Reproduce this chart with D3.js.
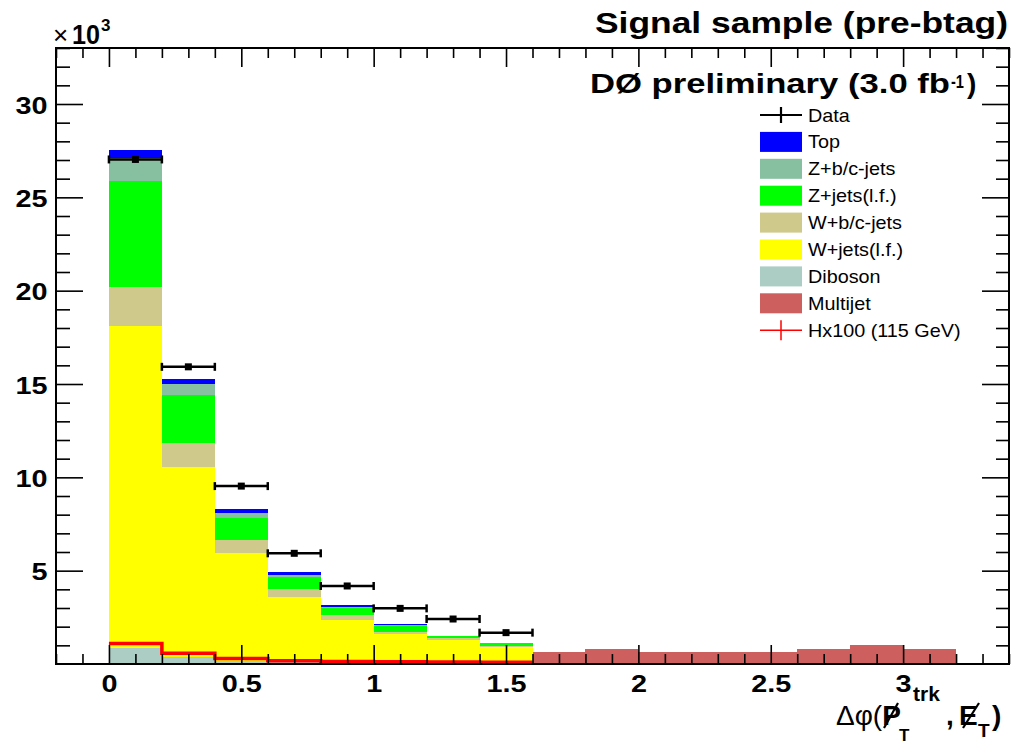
<!DOCTYPE html>
<html>
<head>
<meta charset="utf-8">
<script src="https://cdn.jsdelivr.net/npm/d3@7"></script>
<style>
  body { margin: 0; background: #fff; }
  svg { display: block; font-family: "Liberation Sans", Arial, Helvetica, sans-serif; }
</style>
</head>
<body>
<svg id="chart" width="1018" height="747"></svg>
<script>
// Δφ(pT trk, MET) histogram, bins of 0.2 rad, counts in thousands
const binLow   = [0.0, 0.2, 0.4, 0.6, 0.8, 1.0, 1.2, 1.4, 1.6, 1.8, 2.0, 2.2, 2.4, 2.6, 2.8, 3.0];
const binWidth = 0.2;

// background contributions per bin (x10^3 events), stacked bottom to top
const multijet = [0.05, 0.05, 0.04, 0.04, 0.03, 0.03, 0.03, 0.03, 0.66, 0.80, 0.66, 0.66, 0.66, 0.80, 1.02, 0.79];
const diboson  = [0.80, 0.33, 0.14, 0.06, 0.04, 0.03, 0.02, 0.02, 0, 0, 0, 0, 0, 0, 0, 0];
const wLight   = [17.25, 10.19, 5.75, 3.50, 2.29, 1.53, 1.24, 0.88, 0, 0, 0, 0, 0, 0, 0, 0];
const wHeavy   = [2.10, 1.28, 0.71, 0.40, 0.26, 0.14, 0.09, 0.05, 0, 0, 0, 0, 0, 0, 0, 0];
const zLight   = [5.65, 2.56, 1.20, 0.68, 0.38, 0.31, 0.12, 0.12, 0, 0, 0, 0, 0, 0, 0, 0];
const zHeavy   = [1.25, 0.59, 0.25, 0.09, 0.05, 0.05, 0.01, 0.01, 0, 0, 0, 0, 0, 0, 0, 0];
const topQuark = [0.45, 0.25, 0.21, 0.17, 0.10, 0.04, 0.01, 0.01, 0, 0, 0, 0, 0, 0, 0, 0];

// observed data (first 8 bins) and Higgs signal scaled x100
const dataVal   = [27.03, 15.92, 9.53, 5.93, 4.18, 2.98, 2.41, 1.68];
const dataErr   = [0.16, 0.13, 0.10, 0.08, 0.065, 0.055, 0.05, 0.04];
const higgsX100 = [1.10, 0.57, 0.30, 0.18, 0.13, 0.12, 0.11, 0.10];

const xTickVals   = [0, 0.5, 1, 1.5, 2, 2.5, 3];
const xTickLabels = ["0", "0.5", "1", "1.5", "2", "2.5", "3"];
const yTickVals   = [5, 10, 15, 20, 25, 30];
const yTickLabels = ["5", "10", "15", "20", "25", "30"];

const stackKeys   = ["multijet", "diboson", "wLight", "wHeavy", "zLight", "zHeavy", "topQuark"];
const stackColors = ["#cd5f5f", "#abcdc4", "#ffff00", "#cfc98c", "#00ff00", "#86c0a0", "#0000ff"];

const legendLabels = ["Data", "Top", "Z+b/c-jets", "Z+jets(l.f.)", "W+b/c-jets", "W+jets(l.f.)", "Diboson", "Multijet", "Hx100 (115 GeV)"];
const legendKinds  = ["data", "topQuark", "zHeavy", "zLight", "wHeavy", "wLight", "diboson", "multijet", "signal"];

// ---- layout ----
const frame = { left: 56, right: 1009, top: 48, bottom: 664 };
const svg = d3.select("#chart");

const x = d3.scaleLinear().domain([-0.2, 3.4]).range([frame.left, frame.right]);
const y = d3.scaleLinear().domain([0, 33]).range([frame.bottom, frame.top]);
const color = d3.scaleOrdinal().domain(stackKeys).range(stackColors);

// ---- stacked backgrounds ----
const series = { multijet, diboson, wLight, wHeavy, zLight, zHeavy, topQuark };
const rows = binLow.map((lo, i) => {
  const r = { lo };
  stackKeys.forEach(k => { r[k] = series[k][i]; });
  return r;
});
const stacked = d3.stack().keys(stackKeys)(rows);

const barLayer = svg.append("g").attr("shape-rendering", "crispEdges");
stacked.forEach(s => {
  barLayer.append("g")
    .attr("fill", color(s.key))
    .selectAll("rect")
    .data(s.filter(d => d[1] - d[0] > 0))
    .join("rect")
      .attr("x", d => x(d.data.lo))
      .attr("width", d => x(d.data.lo + binWidth) - x(d.data.lo))
      .attr("y", d => y(d[1]))
      .attr("height", d => y(d[0]) - y(d[1]));
});

// ---- Higgs x100 histogram line ----
const sigPts = higgsX100.map((v, i) => [binLow[i], v]);
sigPts.push([binLow[higgsX100.length - 1] + binWidth, higgsX100[higgsX100.length - 1]]);
svg.append("path")
  .attr("d", d3.line().x(d => x(d[0])).y(d => y(d[1])).curve(d3.curveStepAfter)(sigPts))
  .attr("fill", "none")
  .attr("stroke", "#ff0000")
  .attr("stroke-width", 3.5);

// ---- data points ----
const dataG = svg.append("g").attr("stroke", "#000").attr("fill", "#000");
dataVal.forEach((v, i) => {
  const x0 = x(binLow[i]), x1 = x(binLow[i] + binWidth), xc = (x0 + x1) / 2, yc = y(v);
  const g = dataG.append("g");
  g.append("line").attr("x1", x0).attr("x2", x1).attr("y1", yc).attr("y2", yc).attr("stroke-width", 2.5);
  g.append("line").attr("x1", x0).attr("x2", x0).attr("y1", yc - 4).attr("y2", yc + 4).attr("stroke-width", 2.5);
  g.append("line").attr("x1", x1).attr("x2", x1).attr("y1", yc - 4).attr("y2", yc + 4).attr("stroke-width", 2.5);
  g.append("line").attr("x1", xc).attr("x2", xc)
    .attr("y1", y(v + dataErr[i])).attr("y2", y(v - dataErr[i])).attr("stroke-width", 2);
  g.append("rect").attr("x", xc - 3.5).attr("y", yc - 3.5).attr("width", 7).attr("height", 7).attr("stroke", "none");
});

// ---- axes (ticks drawn inside the frame) ----
const xMinor = d3.range(-2, 35).map(k => k / 10).filter(v => Math.abs(v * 2 - Math.round(v * 2)) > 1e-6);
const yMinor = d3.range(0, 34).filter(v => v % 5 !== 0);

function tickAxis(axisGen, scale, vals, size, transform) {
  const g = svg.append("g").attr("transform", transform)
    .call(axisGen(scale).tickValues(vals).tickSize(-size).tickSizeOuter(0).tickFormat(""));
  g.select(".domain").remove();
  g.selectAll(".tick line").attr("stroke", "#000").attr("stroke-width", 1.6);
  return g;
}
tickAxis(d3.axisBottom, x, xMinor, 10, `translate(0,${frame.bottom})`);
tickAxis(d3.axisTop, x, xMinor, 10, `translate(0,${frame.top})`);
tickAxis(d3.axisTop, x, xTickVals, 19, `translate(0,${frame.top})`);
tickAxis(d3.axisLeft, y, yMinor, 14, `translate(${frame.left},0)`);
tickAxis(d3.axisRight, y, yMinor, 13, `translate(${frame.right},0)`);
tickAxis(d3.axisRight, y, yTickVals, 27, `translate(${frame.right},0)`);

// labelled major axes
const xAxisG = svg.append("g").attr("transform", `translate(0,${frame.bottom})`)
  .call(d3.axisBottom(x).tickValues(xTickVals).tickSize(-19).tickSizeOuter(0).tickPadding(11)
    .tickFormat((d, i) => xTickLabels[i]));
xAxisG.select(".domain").remove();
xAxisG.selectAll(".tick line").attr("stroke", "#000").attr("stroke-width", 1.6);
xAxisG.selectAll(".tick text")
  .attr("fill", "#000").attr("font-size", 24).attr("font-weight", "bold")
  .attr("font-family", "Liberation Sans, Arial, sans-serif")
  .attr("transform", "scale(1.2,1)");

const yAxisG = svg.append("g").attr("transform", `translate(${frame.left},0)`)
  .call(d3.axisLeft(y).tickValues(yTickVals).tickSize(-27).tickSizeOuter(0).tickPadding(7)
    .tickFormat((d, i) => yTickLabels[i]));
yAxisG.select(".domain").remove();
yAxisG.selectAll(".tick line").attr("stroke", "#000").attr("stroke-width", 1.6);
yAxisG.selectAll(".tick text")
  .attr("fill", "#000").attr("font-size", 24).attr("font-weight", "bold")
  .attr("font-family", "Liberation Sans, Arial, sans-serif")
  .attr("dy", "0.38em")
  .attr("transform", "scale(1.2,1)");

// frame
svg.append("rect")
  .attr("x", frame.left).attr("y", frame.top)
  .attr("width", frame.right - frame.left).attr("height", frame.bottom - frame.top)
  .attr("fill", "none").attr("stroke", "#000").attr("stroke-width", 2);

// ---- texts ----
function txt(xp, yp, s, opt = {}) {
  const t = svg.append("text")
    .attr("x", xp).attr("y", yp)
    .attr("font-size", opt.size || 20)
    .attr("font-weight", opt.weight || "normal")
    .attr("text-anchor", opt.anchor || "start")
    .attr("fill", opt.fill || "#000")
    .text(s);
  if (opt.len) t.attr("textLength", opt.len).attr("lengthAdjust", "spacingAndGlyphs");
  return t;
}

// y-axis exponent
txt(53, 44, "×", { size: 26 });
txt(72, 44, "10", { size: 27, weight: "bold", len: 28 });
txt(101, 31, "3", { size: 17, weight: "bold" });

// titles
txt(595, 33, "Signal sample (pre-btag)", { size: 29, weight: "bold", len: 413 });
txt(590, 93, "DØ preliminary (3.0 fb", { size: 28, weight: "bold", len: 360 });
txt(951, 88, "-1", { size: 19, weight: "bold", len: 13 });
txt(967, 93, ")", { size: 28, weight: "bold" });

// x-axis title: Δφ(p̸T trk, E̸T)
const xTitle = svg.append("text").attr("x", 836).attr("y", 725).attr("font-size", 28).attr("fill", "#000");
xTitle.append("tspan").text("Δφ(");
xTitle.append("tspan").attr("font-weight", "bold").text("P");
svg.append("line").attr("x1", 884).attr("y1", 728).attr("x2", 898).attr("y2", 703).attr("stroke", "#000").attr("stroke-width", 2.2);
txt(899, 741, "T", { size: 17, weight: "bold" });
txt(913, 701, "trk", { size: 21, weight: "bold" });
txt(946, 725, ",", { size: 28, weight: "bold" });
txt(959, 725, "E", { size: 28, weight: "bold" });
svg.append("line").attr("x1", 963).attr("y1", 728).attr("x2", 979).attr("y2", 703).attr("stroke", "#000").attr("stroke-width", 2.2);
txt(978, 737, "T", { size: 19, weight: "bold" });
txt(992, 725, ")", { size: 28, weight: "bold" });

// ---- legend ----
const legend = svg.append("g");
legendLabels.forEach((lab, i) => {
  const cy = 115 + i * 26.9;
  const kind = legendKinds[i];
  const g = legend.append("g");
  if (kind === "data") {
    g.append("line").attr("x1", 760).attr("x2", 802).attr("y1", cy).attr("y2", cy).attr("stroke", "#000").attr("stroke-width", 2.2);
    g.append("line").attr("x1", 781).attr("x2", 781).attr("y1", cy - 8).attr("y2", cy + 8).attr("stroke", "#000").attr("stroke-width", 2.2);
  } else if (kind === "signal") {
    g.append("line").attr("x1", 760).attr("x2", 802).attr("y1", cy).attr("y2", cy).attr("stroke", "#ff0000").attr("stroke-width", 1.5);
    g.append("line").attr("x1", 781).attr("x2", 781).attr("y1", cy - 10).attr("y2", cy + 10).attr("stroke", "#ff0000").attr("stroke-width", 1.5);
  } else {
    g.append("rect").attr("x", 760).attr("y", cy - 10).attr("width", 42).attr("height", 20)
      .attr("fill", color(kind));
  }
  g.append("text")
    .attr("transform", `translate(808,${cy + 6.5}) scale(1.1,1)`)
    .attr("font-size", 18)
    .attr("fill", "#000")
    .text(lab);
});
</script>
</body>
</html>
